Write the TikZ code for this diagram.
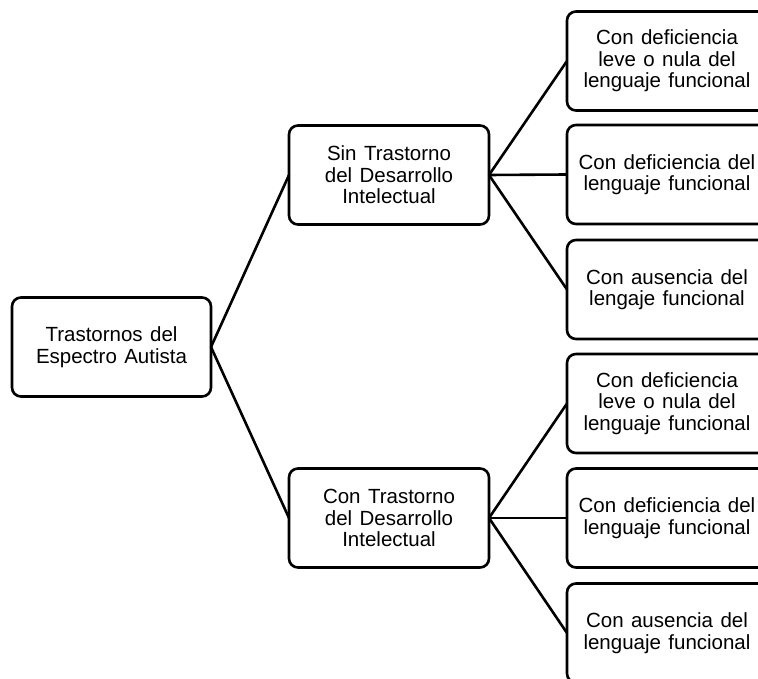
\documentclass[tikz,border=0pt]{standalone}
\usepackage{fontspec}
\setmainfont[WordSpace=1.3]{Liberation Sans}
\usepackage{tikz}

\begin{document}
\begin{tikzpicture}[
            x=1pt, y=1pt,
            box/.style={draw, line width=2.6pt, rounded corners=9pt,
                align=center, inner sep=0pt, outer sep=0pt,
                minimum width=#1, minimum height=99pt,
                font=\fontsize{20.5}{21.5}\selectfont},
            box/.default=200pt,
            link/.style={line width=2.6pt}
        ]
        \useasboundingbox (0, 0) rectangle (758, 678);
        \node[box=199pt] (tea) at (111.5, 331) {Trastornos del\\Espectro Autista};
        \node[box] (sin) at (389, 503) {Sin Trastorno\\del Desarrollo\\Intelectual};
        \node[box] (con) at (389, 160) {Con Trastorno\\del Desarrollo\\Intelectual};
        \node[box] (sinleve) at (667, 617) {Con deficiencia\\leve o nula del\\lenguaje funcional};
        \node[box] (sindef) at (667, 503.5) {Con deficiencia del\\lenguaje funcional};
        \node[box] (sinaus) at (667, 388.5) {Con ausencia del\\lengaje funcional};
        \node[box] (conleve) at (667, 274.5) {Con deficiencia\\leve o nula del\\lenguaje funcional};
        \node[box] (condef) at (667, 160) {Con deficiencia del\\lenguaje funcional};
        \node[box] (conaus) at (667, 45) {Con ausencia del\\lenguaje funcional};
        \draw[link] (tea.east) -- (sin.west);
        \draw[link] (tea.east) -- (con.west);
        \draw[link] (sin.east) -- (sinleve.west);
        \draw[link] (sin.east) -- (sindef.west);
        \draw[link] (sin.east) -- (sinaus.west);
        \draw[link] (con.east) -- (conleve.west);
        \draw[link] (con.east) -- (condef.west);
        \draw[link] (con.east) -- (conaus.west);
    \end{tikzpicture}
\end{document}
